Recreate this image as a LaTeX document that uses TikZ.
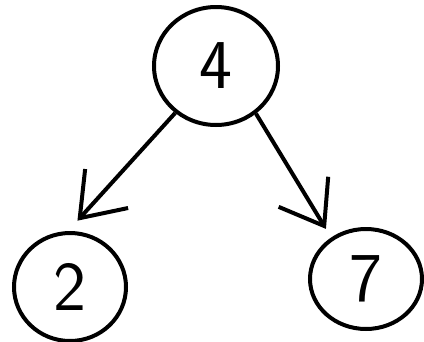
\documentclass[tikz,border=0pt]{standalone}
\usepackage{tikz}
\usetikzlibrary{positioning,shapes.geometric,arrows.meta}

\begin{document}
\begin{tikzpicture}[
    x=1pt, y=-1pt,
    key/.style={draw, ellipse, line width=4pt, inner sep=0pt,
      font=\sffamily\fontsize{70}{74}\selectfont},
    arrow/.style={-{Straight Barb[length=40pt,width=58pt,line width=4pt]},
      line width=4pt}
  ]
    \useasboundingbox (0,0) rectangle (424,341);
    \node[key, minimum width=124pt, minimum height=118pt] (root) at (216,66) {4};
    \node[key, minimum width=112pt, minimum height=108pt] (two) at (70,287) {2};
    \node[key, minimum width=112pt, minimum height=100pt] (seven) at (366,279) {7};
    \draw[arrow, shorten >=14pt] (root.229) -- (two.92);
    \draw[arrow, shorten >=10pt] (root.310) -- (seven.130);
  \end{tikzpicture}
\end{document}
